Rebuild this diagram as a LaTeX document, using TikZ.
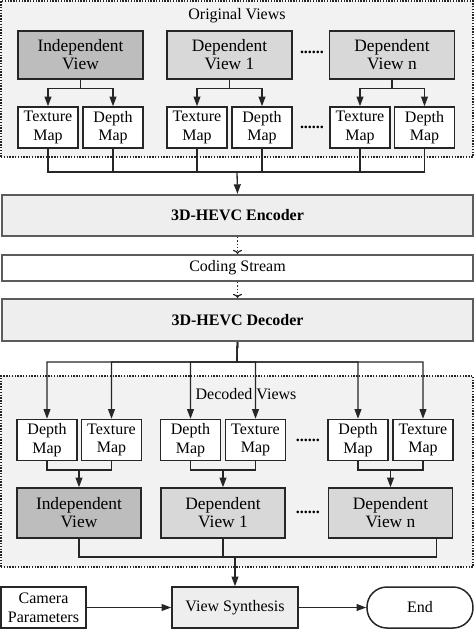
\documentclass[tikz,border=0pt]{standalone}
\usepackage{fontspec}
\setmainfont{Liberation Serif}
\usepackage{tikz}
\usepackage{xcolor}
\usetikzlibrary{arrows.meta}
\definecolor{group-fill}{HTML}{F2F2F2}
\definecolor{indep-fill}{HTML}{BDBDBD}
\definecolor{dep-fill}{HTML}{D8D8D8}
\definecolor{codec-fill}{HTML}{EEEEEE}
\definecolor{line-gray}{HTML}{262626}
\tikzset{
    every node/.style = {font=\fontsize{8}{9.3}\selectfont, align=center},
    group-box/.style = {draw=line-gray, fill=group-fill, dotted, dash pattern=on 0.7pt off 0.7pt, line width=0.8pt, rectangle, minimum width=236pt},
    map-box/.style = {draw=line-gray, fill=white, line width=0.75pt, rectangle, minimum width=30pt, minimum height=20.5pt, inner sep=0pt},
    view-box/.style = {draw=line-gray, line width=0.75pt, rectangle, minimum width=62.5pt, minimum height=24pt, inner sep=0pt, font=\fontsize{8.7}{9}\selectfont},
    indep-box/.style = {view-box, fill=indep-fill},
    dep-box/.style = {view-box, fill=dep-fill},
    codec-box/.style = {draw=line-gray!75, fill=codec-fill, line width=1.1pt, rectangle, minimum width=235.5pt, inner sep=0pt},
    arrow/.style = {draw=line-gray, line width=0.65pt, -{Triangle[length=4.8pt,width=3.4pt]}},
    plain-line/.style = {draw=line-gray, line width=0.65pt},
    dot-arrow/.style = {draw=line-gray, line width=0.6pt, densely dotted, -{To[length=2pt,width=4.5pt]}},
}

\begin{document}
\begin{tikzpicture}[x=0.5pt, y=-0.5pt]
\useasboundingbox (0,0) rectangle (474,629);

% original views
\node[group-box, minimum height=78pt] (orig) at (237,79) {};
\node (orig-title) at (237,16) {Original Views};
\node[indep-box] (ind-o) at (80.5,55) {Independent\\View};
\node[dep-box] (dep1-o) at (229.5,55) {Dependent\\View 1};
\node[dep-box] (depn-o) at (392,55) {Dependent\\View n};
\node (dots-o1) at (312,52) {\textbf{......}};
\node[map-box] (tex-o1) at (48,127.5) {Texture\\Map};
\node[map-box] (dm-o1) at (113,127.5) {Depth\\Map};
\node[map-box] (tex-o2) at (197,127.5) {Texture\\Map};
\node[map-box] (dm-o2) at (262,127.5) {Depth\\Map};
\node[map-box] (tex-on) at (360,127.5) {Texture\\Map};
\node[map-box] (dm-on) at (424.5,127.5) {Depth\\Map};
\node (dots-o2) at (312,127) {\textbf{......}};

\draw[arrow] (ind-o.south) -- ++(0,9) -| (tex-o1.north);
\draw[arrow] (ind-o.south) -- ++(0,9) -| (dm-o1.north);
\draw[arrow] (dep1-o.south) -- ++(0,9) -| (tex-o2.north);
\draw[arrow] (dep1-o.south) -- ++(0,9) -| (dm-o2.north);
\draw[arrow] (depn-o.south) -- ++(0,9) -| (tex-on.north);
\draw[arrow] (depn-o.south) -- ++(0,9) -| (dm-on.north);

% coding chain
\node[codec-box, minimum height=20.5pt] (enc) at (237.5,215.5) {\textbf{3D-HEVC Encoder}};
\node[codec-box, fill=white, minimum height=13pt] (stream) at (237.5,268) {Coding Stream};
\node[codec-box, minimum height=21pt] (dec) at (237.5,320) {\textbf{3D-HEVC Decoder}};

\coordinate (join-o) at (237,172);
\draw[plain-line] (tex-o1.south) |- (join-o);
\draw[plain-line] (dm-o1.south) |- (join-o);
\draw[plain-line] (tex-o2.south) |- (join-o);
\draw[plain-line] (dm-o2.south) |- (join-o);
\draw[plain-line] (tex-on.south) |- (join-o);
\draw[plain-line] (dm-on.south) |- (join-o);
\draw[arrow] (join-o) -- (enc.north);
\draw[dot-arrow] (enc.south) -- (stream.north);
\draw[dot-arrow] (stream.south) -- (dec.north);

% decoded views
\node[group-box, minimum height=95.5pt] (decd) at (237,471.5) {};
\node (decd-title) at (246,394) {Decoded Views};
\node[map-box] (dm-d1) at (47,440) {Depth\\Map};
\node[map-box] (tex-d1) at (111.5,440) {Texture\\Map};
\node[map-box] (dm-d2) at (190.5,440) {Depth\\Map};
\node[map-box] (tex-d2) at (255.5,440) {Texture\\Map};
\node[map-box] (dm-dn) at (358,440) {Depth\\Map};
\node[map-box] (tex-dn) at (423,440) {Texture\\Map};
\node (dots-d1) at (308,440) {\textbf{......}};
\node[indep-box, minimum width=62pt, minimum height=25pt] (ind-d) at (79,513) {Independent\\View};
\node[dep-box, minimum width=62pt, minimum height=25pt] (dep1-d) at (223,513) {Dependent\\View 1};
\node[dep-box, minimum width=62pt, minimum height=25pt] (depn-d) at (390.5,513) {Dependent\\View n};
\node (dots-d2) at (308,512) {\textbf{......}};

\coordinate (split-d) at (237,362);
\draw[arrow] (dec.south) -- (split-d) -| (dm-d1.north);
\draw[arrow] (dec.south) -- (split-d) -| (tex-d1.north);
\draw[arrow] (dec.south) -- (split-d) -| (dm-d2.north);
\draw[arrow] (dec.south) -- (split-d) -| (tex-d2.north);
\draw[arrow] (dec.south) -- (split-d) -| (dm-dn.north);
\draw[arrow] (dec.south) -- (split-d) -| (tex-dn.north);

\draw[plain-line] (dm-d1.south) |- (ind-d.north |- 0,470) -| (tex-d1.south);
\draw[arrow] (ind-d.north |- 0,470) -- (ind-d.north);
\draw[plain-line] (dm-d2.south) |- (dep1-d.north |- 0,470) -| (tex-d2.south);
\draw[arrow] (dep1-d.north |- 0,470) -- (dep1-d.north);
\draw[plain-line] (dm-dn.south) |- (depn-d.north |- 0,470) -| (tex-dn.south);
\draw[arrow] (depn-d.north |- 0,470) -- (depn-d.north);

% synthesis
\node[view-box, fill=codec-fill, minimum width=63pt, minimum height=20.5pt, font=\fontsize{8}{9.3}\selectfont] (synth) at (235,607.5) {View Synthesis};
\node[view-box, fill=white, minimum width=42.5pt, minimum height=20.5pt, font=\fontsize{8}{9.3}\selectfont] (camera) at (43.5,607.5) {Camera\\Parameters};
\node[view-box, fill=white, rounded corners=10pt, minimum width=53pt, minimum height=20.5pt, font=\fontsize{8}{9.3}\selectfont] (end) at (420,607.5) {End};

\coordinate (join-d) at (235,557);
\draw[plain-line] (ind-d.south) |- (join-d);
\draw[plain-line] (dep1-d.south) |- (join-d);
\draw[plain-line] ([xshift=23pt]depn-d.south) |- (join-d);
\draw[arrow] (join-d) -- (synth.north);
\draw[arrow] (camera.east) -- (synth.west);
\draw[arrow] (synth.east) -- (end.west);
\end{tikzpicture}
\end{document}
